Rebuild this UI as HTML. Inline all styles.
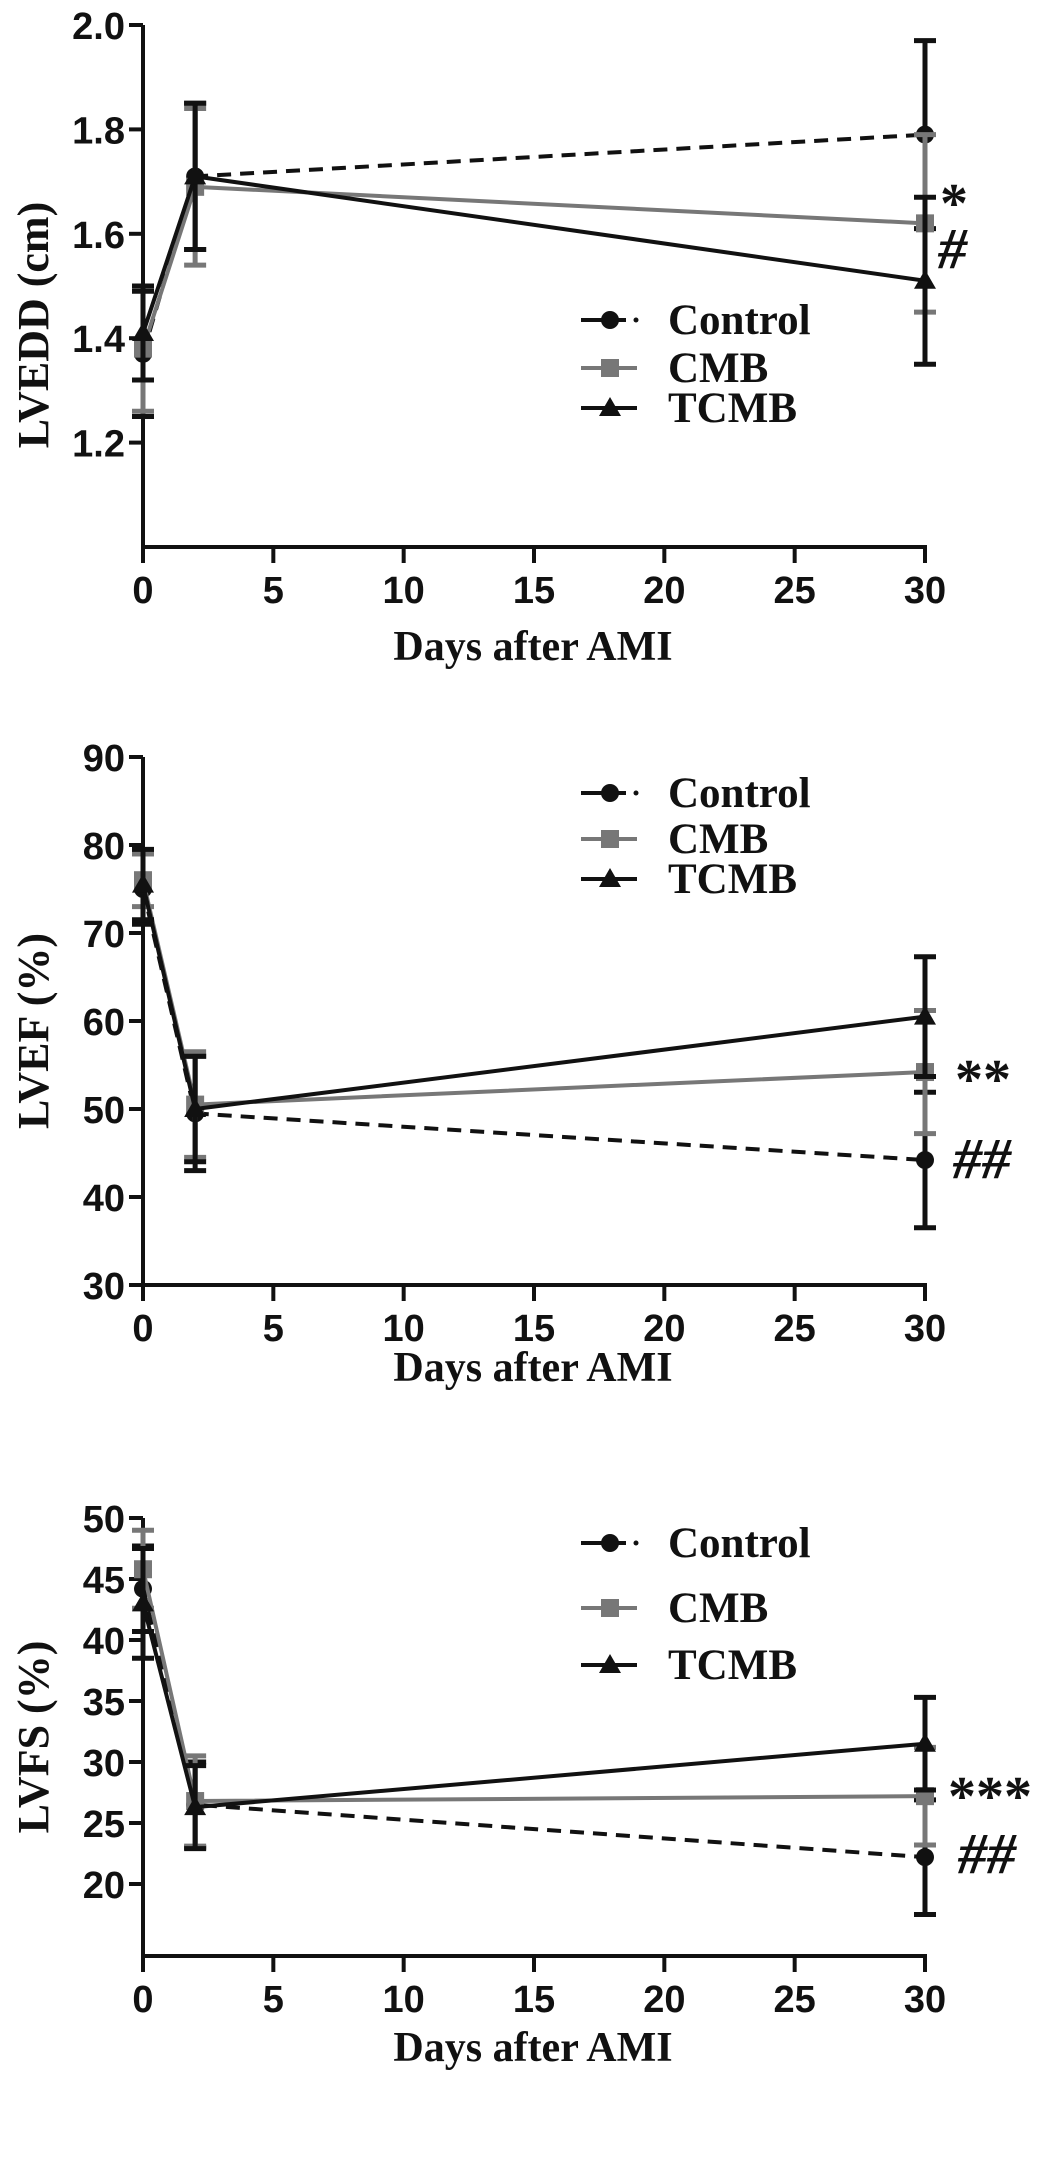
<!DOCTYPE html>
<html><head><meta charset="utf-8"><style>
html,body{margin:0;padding:0;background:#fff}
svg{display:block}
.tick{font-family:"Liberation Sans",sans-serif;font-weight:bold;font-size:38px;fill:#111}
.ser{font-family:"Liberation Serif",serif;font-weight:bold;fill:#111}
</style></head><body>
<svg id="fig" width="1063" height="2174" viewBox="0 0 1063 2174" xmlns="http://www.w3.org/2000/svg"></svg>
<script>
const days = [0, 2, 30];
const xTicks = [0, 5, 10, 15, 20, 25, 30];
// LVEDD
const lvedd_control = [1.37, 1.71, 1.79];
const lvedd_control_err = [0.12, 0.14, 0.18];
const lvedd_cmb = [1.38, 1.69, 1.62];
const lvedd_cmb_err = [0.12, 0.15, 0.17];
const lvedd_tcmb = [1.41, 1.71, 1.51];
const lvedd_tcmb_err = [0.09, 0.14, 0.16];
const lvedd_ticks = ["1.2", "1.4", "1.6", "1.8", "2.0"];
// LVEF
const lvef_control = [75, 49.5, 44.2];
const lvef_control_err = [4, 6.5, 7.7];
const lvef_cmb = [76, 50.5, 54.2];
const lvef_cmb_err = [3, 6, 7];
const lvef_tcmb = [75.5, 50, 60.5];
const lvef_tcmb_err = [4, 6, 6.8];
const lvef_ticks = ["30", "40", "50", "60", "70", "80", "90"];
// LVFS
const lvfs_control = [44.2, 26.5, 22.2];
const lvfs_control_err = [3.5, 3.5, 4.7];
const lvfs_cmb = [45.8, 26.8, 27.2];
const lvfs_cmb_err = [3.2, 3.7, 4];
const lvfs_tcmb = [43, 26.3, 31.5];
const lvfs_tcmb_err = [4.5, 3.4, 3.8];
const lvfs_ticks = ["20", "25", "30", "35", "40", "45", "50"];

const NS = "http://www.w3.org/2000/svg";
const svg = document.getElementById('fig');
function mk(tag, attrs, parent, text) {
  const e = document.createElementNS(NS, tag);
  for (const k in attrs) e.setAttribute(k, attrs[k]);
  if (text !== undefined) e.textContent = text;
  (parent || svg).appendChild(e);
  return e;
}
const X0 = 143, X1 = 925;
function xs(d) { return X0 + (X1 - X0) * d / 30; }

function marker(g, kind, x, y, color) {
  let m;
  if (kind === 'circle') m = mk('circle', {cx: x, cy: y, r: 9, fill: color}, g);
  else if (kind === 'square') m = mk('rect', {x: x - 9, y: y - 9, width: 18, height: 18, fill: color}, g);
  else m = mk('polygon', {points: `${x},${y - 11} ${x - 11},${y + 8} ${x + 11},${y + 8}`, fill: color}, g);
  return m;
}

function chart(cfg) {
  const g = mk('g', {});
  
  
  const ys = v => cfg.yRef + (cfg.vRef - v) * cfg.pxPerUnit;
  const ya = mk('line', {x1: X0, y1: cfg.yRef, x2: X0, y2: cfg.yBot + 2, stroke: '#111', 'stroke-width': 4}, g);
  
  
  const xa = mk('line', {x1: X0 - 2, y1: cfg.yBot, x2: X1 + 2, y2: cfg.yBot, stroke: '#111', 'stroke-width': 4}, g);
  
  
  cfg.ticks.forEach(t => {
    const y = ys(parseFloat(t));
    mk('line', {x1: X0 - 14, y1: y, x2: X0, y2: y, stroke: '#111', 'stroke-width': 4}, g);
    const tl = mk('text', {x: X0 - 18, y: y + 14, 'text-anchor': 'end', class: 'tick'}, g, t);
    
    
  });
  xTicks.forEach(t => {
    const x = xs(t);
    mk('line', {x1: x, y1: cfg.yBot, x2: x, y2: cfg.yBot + 16, stroke: '#111', 'stroke-width': 4}, g);
    const tl = mk('text', {x: x, y: cfg.yBot + 56, 'text-anchor': 'middle', class: 'tick'}, g, String(t));
    
    
  });
  const xt = mk('text', {x: 533, y: cfg.yBot + cfg.xlOff, 'text-anchor': 'middle', class: 'ser', 'font-size': 42}, g, 'Days after AMI');
  
  
  const yt = mk('text', {x: 0, y: 0, 'text-anchor': 'middle', class: 'ser', 'font-size': 44, transform: `translate(48,${cfg.yTitle}) rotate(-90)`}, g, cfg.yLabel);
  
  

  const series = [
    {key: 'control', vals: cfg.control, err: cfg.controlErr, color: '#111', dash: '14,9', m: 'circle'},
    {key: 'cmb', vals: cfg.cmb, err: cfg.cmbErr, color: '#777', dash: null, m: 'square'},
    {key: 'tcmb', vals: cfg.tcmb, err: cfg.tcmbErr, color: '#111', dash: null, m: 'triangle'}
  ];
  series.forEach(s => {
    const sg = mk('g', {}, g);
    
    
    days.forEach((d, i) => {
      const x = xs(d), yl = ys(s.vals[i] - s.err[i]), yh = ys(s.vals[i] + s.err[i]);
      const eb = mk('path', {d: `M${x},${yl}V${yh}M${x - 11},${yh}H${x + 11}M${x - 11},${yl}H${x + 11}`, stroke: s.color, 'stroke-width': 5, fill: 'none'}, sg);
      
      
    });
    const pts = days.map((d, i) => xs(d) + ',' + ys(s.vals[i])).join(' ');
    const ln = mk('polyline', {points: pts, stroke: s.color, 'stroke-width': 4, fill: 'none'}, sg);
    if (s.dash) ln.setAttribute('stroke-dasharray', s.dash);
    
    
    days.forEach((d, i) => {
      const m = marker(sg, s.m, xs(d), ys(s.vals[i]), s.color);
      
      
    });
  });
  const lg = mk('g', {}, g);
  
  
  const names = ['Control', 'CMB', 'TCMB'];
  series.forEach((s, i) => {
    const y = cfg.legendY[i];
    const eg = mk('g', {}, lg);
    
    
    if (s.dash) {
      mk('line', {x1: 581, y1: y, x2: 626, y2: y, stroke: s.color, 'stroke-width': 4}, eg);
      mk('circle', {cx: 636, cy: y, r: 2.5, fill: s.color}, eg);
    } else {
      mk('line', {x1: 581, y1: y, x2: 637, y2: y, stroke: s.color, 'stroke-width': 4}, eg);
    }
    marker(eg, s.m, 610, y, s.color);
    mk('text', {x: 668, y: y + 14, class: 'ser', 'font-size': 43}, eg, names[i]);
  });
  cfg.annot.forEach(a => {
    const t = mk('text', {x: a[1], y: a[2], class: 'ser', 'font-size': a[3], 'font-style': a[4] || 'normal', 'font-weight': 'normal'}, g, a[0]);
    
    
  });
}

chart({name: 'lvedd-chart', yLabel: 'LVEDD (cm)', yTitle: 325, yBot: 547, vRef: 2.0, yRef: 25, pxPerUnit: 522,
  ticks: lvedd_ticks, control: lvedd_control, controlErr: lvedd_control_err, cmb: lvedd_cmb, cmbErr: lvedd_cmb_err,
  tcmb: lvedd_tcmb, tcmbErr: lvedd_tcmb_err, legendY: [320, 368, 408], xlOff: 113,
  annot: [['*', 940, 222, 56], ['#', 938, 268, 58, 'italic']]});
chart({name: 'lvef-chart', yLabel: 'LVEF (%)', yTitle: 1031, yBot: 1285, vRef: 90, yRef: 757, pxPerUnit: 8.8,
  ticks: lvef_ticks, control: lvef_control, controlErr: lvef_control_err, cmb: lvef_cmb, cmbErr: lvef_cmb_err,
  tcmb: lvef_tcmb, tcmbErr: lvef_tcmb_err, legendY: [793, 839, 879], xlOff: 96,
  annot: [['**', 955, 1098, 56], ['##', 953, 1178, 58, 'italic']]});
chart({name: 'lvfs-chart', yLabel: 'LVFS (%)', yTitle: 1737, yBot: 1956, vRef: 50, yRef: 1518, pxPerUnit: 12.2,
  ticks: lvfs_ticks, control: lvfs_control, controlErr: lvfs_control_err, cmb: lvfs_cmb, cmbErr: lvfs_cmb_err,
  tcmb: lvfs_tcmb, tcmbErr: lvfs_tcmb_err, legendY: [1543, 1608, 1665], xlOff: 105,
  annot: [['***', 948, 1815, 56], ['##', 958, 1873, 58, 'italic']]});
</script>
</body></html>
